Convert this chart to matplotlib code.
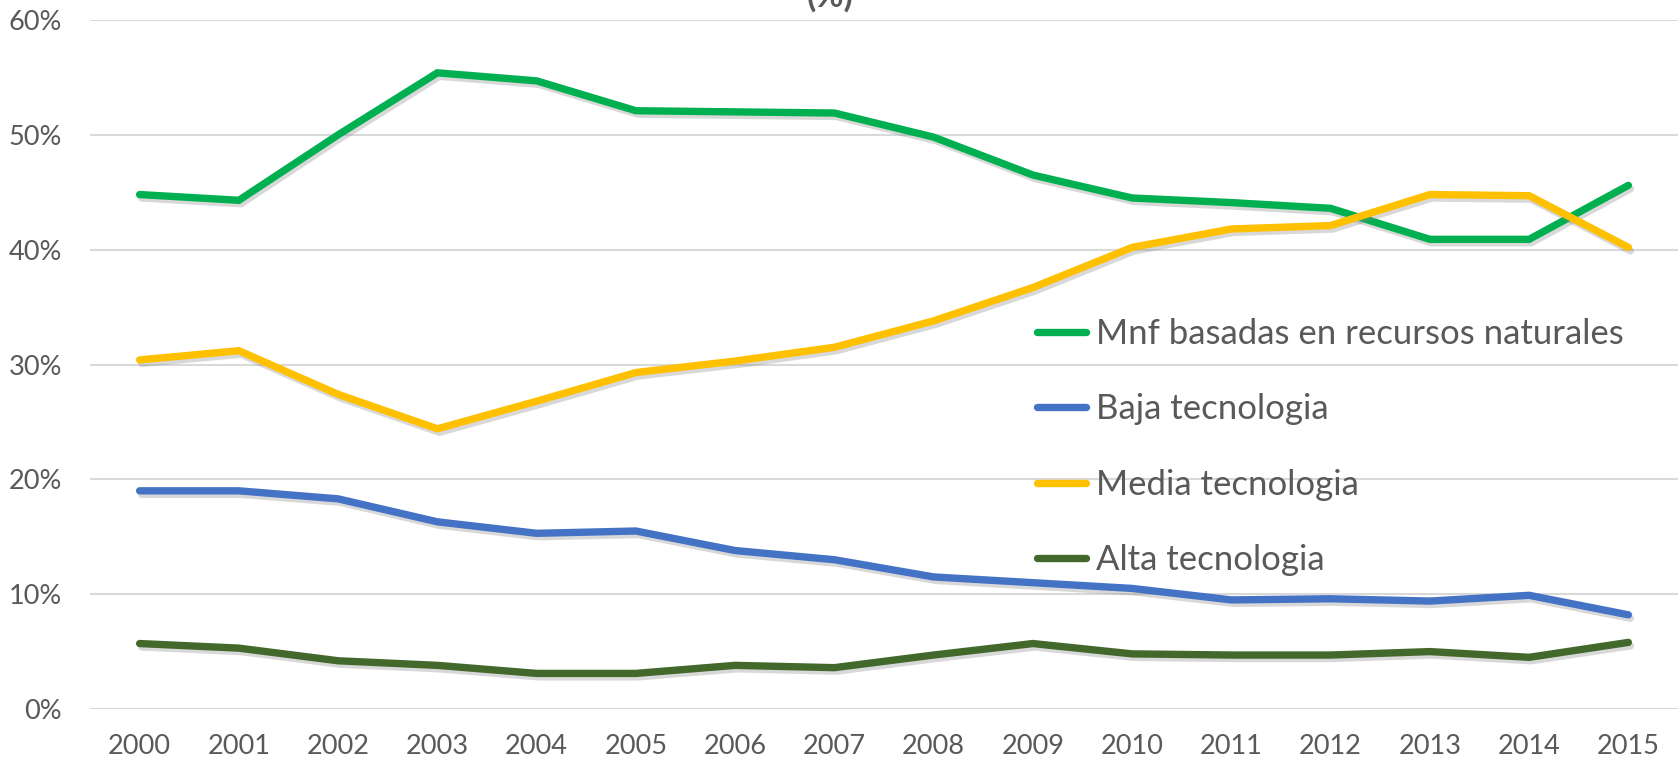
import matplotlib
matplotlib.use("Agg")
import matplotlib.pyplot as plt
import matplotlib.patheffects as pe
from matplotlib.ticker import PercentFormatter

years = ["2000", "2001", "2002", "2003", "2004", "2005", "2006", "2007",
         "2008", "2009", "2010", "2011", "2012", "2013", "2014", "2015"]

mnf_recursos = [44.8, 44.3, 50.0, 55.4, 54.7, 52.1, 52.0, 51.9,
                49.8, 46.5, 44.5, 44.1, 43.6, 40.9, 40.9, 45.6]
baja_tec = [19.0, 19.0, 18.3, 16.3, 15.3, 15.5, 13.8, 13.0,
            11.5, 11.0, 10.5, 9.5, 9.6, 9.4, 9.9, 8.2]
media_tec = [30.4, 31.2, 27.4, 24.4, 26.8, 29.3, 30.3, 31.5,
             33.8, 36.7, 40.2, 41.8, 42.1, 44.8, 44.7, 40.2]
alta_tec = [5.7, 5.3, 4.2, 3.8, 3.1, 3.1, 3.8, 3.6,
            4.7, 5.7, 4.8, 4.7, 4.7, 5.0, 4.5, 5.8]

series_names = ["Mnf basadas en recursos naturales", "Baja tecnologia",
                "Media tecnologia", "Alta tecnologia"]
series_values = [mnf_recursos, baja_tec, media_tec, alta_tec]
series_colors = ["#00B050", "#4472C4", "#FFC000", "#43682B"]

plt.rcParams['font.family'] = ['Lato', 'DejaVu Sans']
txt = "#595959"

fig = plt.figure(figsize=(16.81, 7.62), dpi=100)
ax = fig.add_axes([90 / 1681, 1 - 709 / 762, 1588 / 1681, 689 / 762])

x = list(range(len(years)))
shadow = [pe.SimpleLineShadow(offset=(1.5, -2.5), shadow_color="gray", alpha=0.3),
          pe.Normal()]
handles = []
for name, vals, col in zip(series_names, series_values, series_colors):
    h, = ax.plot(x, vals, color=col, lw=5.3, label=name,
                 solid_joinstyle='miter', solid_capstyle='round',
                 path_effects=shadow, zorder=3)
    handles.append(h)

ax.set_xlim(-0.5, len(years) - 0.5)
ax.set_ylim(0, 60)
ax.set_yticks([0, 10, 20, 30, 40, 50, 60])
ax.yaxis.set_major_formatter(PercentFormatter(decimals=0))
ax.set_xticks(x)
ax.set_xticklabels(years)
ax.grid(axis='y', color="#D9D9D9", lw=1.5, zorder=0)
ax.set_axisbelow(True)
for s in ax.spines.values():
    s.set_visible(False)
ax.tick_params(axis='both', length=0, labelsize=19.5, colors=txt)
ax.tick_params(axis='y', pad=20)
ax.tick_params(axis='x', pad=18)

leg = fig.legend(handles=handles, loc='upper left',
                 bbox_to_anchor=(1037 / 1681, 1 - 318 / 762),
                 bbox_transform=fig.transFigure, frameon=False,
                 fontsize=25, labelcolor=txt, handlelength=1.41,
                 handletextpad=0.28, labelspacing=1.25, borderaxespad=0,
                 borderpad=0)
for lh in leg.get_lines():
    lh.set_path_effects([pe.Normal()])
    lh.set_solid_capstyle('round')

fig.text(830 / 1681, 1 - 7 / 762, "(%)", ha='center', va='baseline',
         fontsize=24.6, fontweight='bold', color=txt)

fig.savefig("out.png", dpi=100)
